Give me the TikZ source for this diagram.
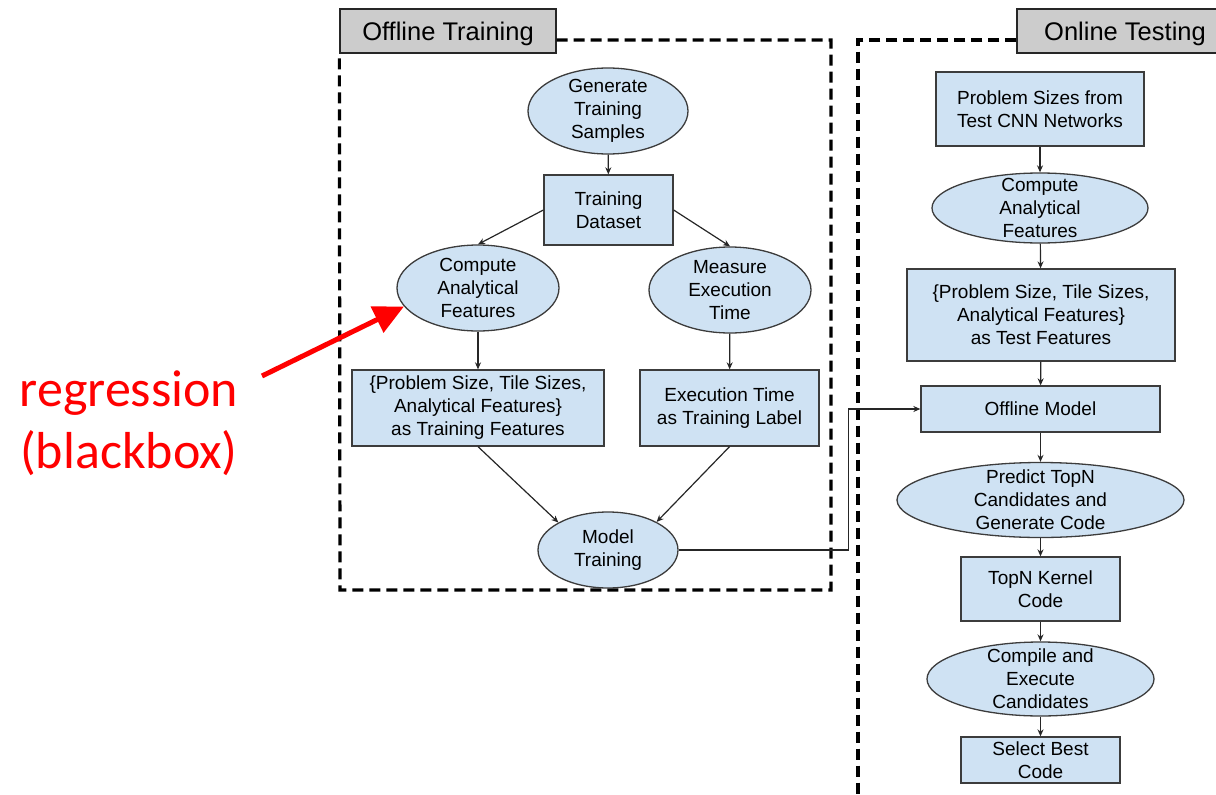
\documentclass[tikz,border=0pt]{standalone}
\usepackage{fontspec}
\setmainfont{Liberation Sans}
\newfontfamily\notefont{Carlito}
\usetikzlibrary{shapes.geometric,arrows.meta}
\definecolor{boxblue}{HTML}{CFE2F3}
\definecolor{boxline}{HTML}{3C3C3C}
\definecolor{tabgray}{HTML}{CCCCCC}

\begin{document}
\begin{tikzpicture}[x=1pt,y=-1pt,
  every node/.style = {font=\fontsize{19}{23}\selectfont, align=center},
  blk/.style   = {draw=boxline, fill=boxblue, line width=1.3pt, inner sep=0pt},
  oval/.style  = {ellipse, draw=boxline, fill=boxblue, line width=1.3pt, inner sep=-20pt},
  tab/.style   = {draw=black!85, fill=tabgray, line width=1.3pt, inner sep=0pt,
                  minimum width=216pt, minimum height=44pt,
                  text height=19pt, text depth=0pt,
                  font=\fontsize{25.5}{30}\selectfont},
  frame/.style = {line width=3.2pt, dash pattern=on 11pt off 6pt},
  arr/.style   = {draw=black!85, line width=1.2pt, -{Stealth[length=7pt,width=6pt]}}]
\useasboundingbox (0,0) rectangle (1216,795);

% offline part
\node[tab] (offtab) at (448,31) {Offline Training};
\draw[frame] (offtab.east |- 0,40) -- (831,40) -- (831,590) -- (340,590) -- (offtab.south west);

\node[oval, minimum width=160pt, minimum height=86pt] (gen) at (608,111) {Generate\\Training\\Samples};
\node[blk, minimum width=129pt, minimum height=70pt] (ds) at (608.5,210) {Training\\Dataset};
\node[oval, minimum width=162pt, minimum height=86pt] (comp) at (478,288) {Compute\\Analytical\\Features};
\node[oval, minimum width=162pt, minimum height=86pt] (meas) at (730,290) {Measure\\Execution\\Time};
\node[blk, minimum width=252pt, minimum height=76pt] (feat) at (478,408)
  {\{Problem Size, Tile Sizes,\\Analytical Features\}\\as Training Features};
\node[blk, minimum width=179pt, minimum height=76pt] (lab) at (729.5,408) {Execution Time\\as Training Label};
\node[oval, minimum width=140pt, minimum height=76pt] (model) at (608,550) {Model\\Training};

\draw[arr] (gen) -- (ds);
\draw[arr] (ds.west) -- (comp.north);
\draw[arr] (ds.east) -- (meas.north);
\draw[arr] (comp) -- (feat);
\draw[arr] (meas) -- (lab);
\draw[arr] (feat.south) -- (model.151);
\draw[arr] (lab.south) -- (model.30);

% online part
\node[tab] (ontab) at (1125,31) {Online Testing};
\draw[frame] (ontab.west |- 0,40) -- (858,40) -- (858,800);

\node[blk, minimum width=208pt, minimum height=74pt] (psz) at (1040,109) {Problem Sizes from\\Test CNN Networks};
\node[oval, minimum width=216pt, minimum height=70pt] (tcomp) at (1040,208) {Compute\\Analytical\\Features};
\node[blk, minimum width=268pt, minimum height=92pt] (tfeat) at (1041,315)
  {\{Problem Size, Tile Sizes,\\Analytical Features\}\\as Test Features};
\node[blk, minimum width=239pt, minimum height=46pt] (offm) at (1040.5,409) {Offline Model};
\node[oval, minimum width=287pt, minimum height=75pt] (pred) at (1040.5,500) {Predict TopN\\Candidates and\\Generate Code};
\node[blk, minimum width=159pt, minimum height=64pt] (topn) at (1040.5,589) {TopN Kernel\\Code};
\node[oval, minimum width=227pt, minimum height=74pt] (cexe) at (1040.5,679) {Compile and\\Execute\\Candidates};
\node[blk, minimum width=159pt, minimum height=46pt] (best) at (1040.5,760) {Select Best\\Code};

\draw[arr] (psz) -- (tcomp);
\draw[arr] (tcomp) -- (tfeat);
\draw[arr] (tfeat) -- (offm);
\draw[arr] (offm) -- (pred);
\draw[arr] (pred) -- (topn);
\draw[arr] (topn) -- (cexe);
\draw[arr] (cexe) -- (best);

\draw[arr] (model.east) -- ++(170,0) |- (offm.west);

% note
\node[text=red, font=\notefont\fontsize{52}{62}\selectfont] (reg) at (129,423) {regression\\(blackbox)};
\coordinate (regtail) at (262,376);
\draw[red, line width=5pt, -{Triangle[length=30pt,width=28pt]}] (regtail) -- (comp.194);
\end{tikzpicture}
\end{document}
